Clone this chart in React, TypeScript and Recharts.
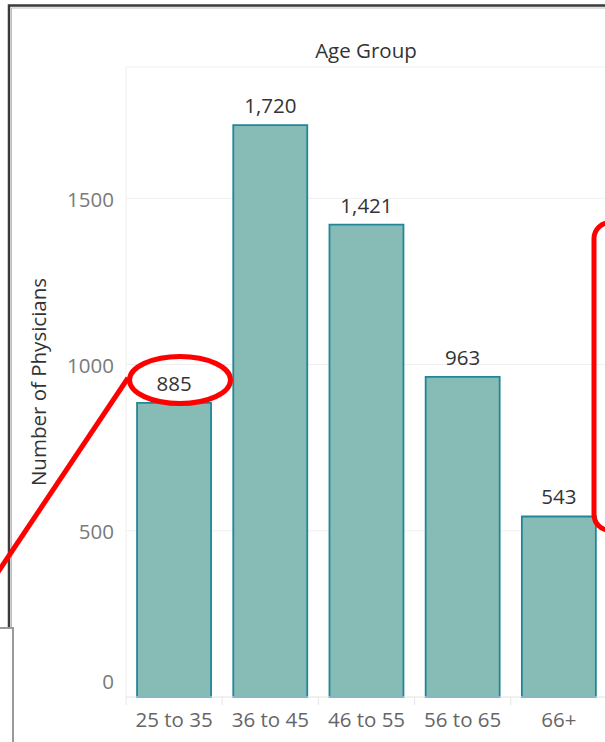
import React from "react"
import { BarChart, Bar, XAxis, YAxis, CartesianGrid, LabelList } from "recharts"

const AGE_GROUPS = ["25 to 35", "36 to 45", "46 to 55", "56 to 65", "66+"]
const PHYSICIANS = [885, 1720, 1421, 963, 543]
const Y_TICKS = [0, 500, 1000, 1500]
const Y_MAX = 1895

const DATA = AGE_GROUPS.map((group, i) => ({ group, count: PHYSICIANS[i] }))

const FONT = "'Open Sans', sans-serif"
const CHART_W = 620
const CHART_H = 742
const MARGIN = { top: 67, right: 13, left: 0, bottom: 0 }
const Y_AXIS_W = 126
const BAND = (CHART_W - MARGIN.right - Y_AXIS_W) / AGE_GROUPS.length

const fmt = (n: number) => n.toLocaleString("en-US")

function YTick({ x, y, payload }: any) {
  // Tableau lifts the zero label above the baseline
  const shift = payload.value === 0 ? -15 : 1
  return (
    <text x={x} y={y + shift} dy="0.36em" textAnchor="end" fill="#7a7a7a" fontSize={20.5} fontFamily={FONT}>
      {payload.value}
    </text>
  )
}

function XTick({ x, y, payload }: any) {
  const edge = x - BAND / 2
  return (
    <g>
      <line x1={edge} x2={edge} y1={y - 8} y2={y} stroke="#e6e6e6" strokeWidth={1} />
      <text x={x} y={y} dy={22} textAnchor="middle" fill="#666" fontSize={20.5} fontFamily={FONT}>
        {payload.value}
      </text>
    </g>
  )
}

export default function App() {
  return (
    <div style={{ position: "absolute", left: 0, top: 0, width: 605, height: 742, overflow: "hidden", background: "#fff" }}>
      <BarChart width={CHART_W} height={CHART_H} data={DATA} margin={MARGIN} barCategoryGap="11.5%">
        <CartesianGrid vertical={false} stroke="#f0f0f0" />
        <XAxis
          dataKey="group"
          height={45}
          axisLine={{ stroke: "#eaeaea" }}
          tickLine={false}
          tick={<XTick />}
          interval={0}
        />
        <YAxis
          width={Y_AXIS_W}
          domain={[0, Y_MAX]}
          ticks={Y_TICKS}
          axisLine={{ stroke: "#eeeeee" }}
          tickLine={false}
          tickMargin={6}
          tick={<YTick />}
          label={{
            content: ({ viewBox }: any) => {
              const cx = viewBox.x + 38
              const cy = viewBox.y + viewBox.height / 2
              return (
                <text x={cx} y={cy} transform={`rotate(-90 ${cx} ${cy})`} textAnchor="middle" dominantBaseline="central" fill="#333" fontSize={20.5} fontFamily={FONT}>
                  Number of Physicians
                </text>
              )
            },
          }}
        />
        <Bar dataKey="count" fill="#86bcb5" stroke="#22869a" strokeWidth={1.8} isAnimationActive={false}>
          <LabelList dataKey="count" position="top" offset={12} formatter={(v: any) => fmt(Number(v))} fill="#333" fontSize={20.5} fontFamily={FONT} />
        </Bar>
      </BarChart>

      {/* title and annotations drawn over the chart */}
      <svg width={605} height={742} style={{ position: "absolute", left: 0, top: 0, pointerEvents: "none" }}>
        <text x={366} y={50} textAnchor="middle" dominantBaseline="central" fill="#333" fontSize={20.5} fontFamily={FONT}>
          Age Group
        </text>
        <path d="M9 627 V5.5 H605" fill="none" stroke="#3a3a3a" strokeWidth={2.5} />
        <path d="M11.5 627 V8 H605" fill="none" stroke="#bdbdbd" strokeWidth={1} />
        <rect x={-3} y={628} width={16} height={130} fill="#fff" stroke="#9a9a9a" strokeWidth={2} />
        <line x1={-2} y1={572} x2={128} y2={378} stroke="#ff0000" strokeWidth={5} />
        <ellipse cx={180} cy={380} rx={50.5} ry={23.5} fill="none" stroke="#ff0000" strokeWidth={5} />
        <rect x={594} y={222.5} width={60} height={308} rx={16} fill="none" stroke="#ff0000" strokeWidth={5} />
      </svg>
    </div>
  )
}
